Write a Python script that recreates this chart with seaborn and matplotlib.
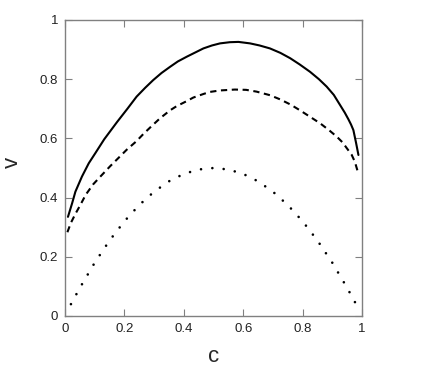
import numpy as np
import pandas as pd
import seaborn as sns
import matplotlib.pyplot as plt

# values
c_solid = [0.01, 0.024, 0.035, 0.057, 0.08, 0.102, 0.132, 0.175, 0.21, 0.241, 0.27, 0.297,
           0.325, 0.354, 0.38, 0.41, 0.44, 0.466, 0.495, 0.522, 0.555, 0.584, 0.623, 0.655,
           0.69, 0.725, 0.758, 0.79, 0.825, 0.855, 0.881, 0.905, 0.926, 0.942, 0.954, 0.963,
           0.971, 0.98, 0.988]
v_solid = [0.335, 0.381, 0.42, 0.471, 0.516, 0.55, 0.597, 0.655, 0.70, 0.741, 0.771, 0.797,
           0.821, 0.842, 0.86, 0.876, 0.891, 0.904, 0.914, 0.921, 0.925, 0.926, 0.921, 0.914,
           0.904, 0.889, 0.871, 0.85, 0.825, 0.80, 0.775, 0.747, 0.713, 0.687, 0.665, 0.647,
           0.628, 0.585, 0.544]

c_dash = [0.008, 0.02, 0.035, 0.05, 0.07, 0.095, 0.12, 0.152, 0.186, 0.208, 0.24, 0.264,
          0.29, 0.32, 0.354, 0.376, 0.41, 0.432, 0.466, 0.488, 0.522, 0.572, 0.61, 0.645,
          0.69, 0.724, 0.76, 0.791, 0.825, 0.859, 0.89, 0.915, 0.935, 0.948, 0.965, 0.976,
          0.988]
v_dash = [0.283, 0.315, 0.345, 0.372, 0.41, 0.445, 0.472, 0.506, 0.54, 0.562, 0.59, 0.615,
          0.64, 0.668, 0.695, 0.709, 0.726, 0.738, 0.75, 0.757, 0.762, 0.765, 0.764, 0.758,
          0.746, 0.732, 0.714, 0.695, 0.673, 0.651, 0.627, 0.606, 0.586, 0.568, 0.545, 0.521,
          0.48]

c_dot = [0.02, 0.05, 0.1, 0.15, 0.2, 0.25, 0.3, 0.35, 0.4, 0.45, 0.5, 0.55, 0.6, 0.65,
         0.7, 0.75, 0.8, 0.85, 0.9, 0.95, 0.98]
v_dot = [0.04, 0.095, 0.18, 0.255, 0.32, 0.375, 0.42, 0.455, 0.48, 0.495, 0.50, 0.495,
         0.48, 0.455, 0.42, 0.375, 0.32, 0.255, 0.18, 0.095, 0.04]

ticks = [0, 0.2, 0.4, 0.6, 0.8, 1]
tick_labels = ["0", "0.2", "0.4", "0.6", "0.8", "1"]

sns.set_style("ticks")
plt.rcParams['font.family'] = ['Liberation Sans', 'DejaVu Sans']

fig = plt.figure(figsize=(4.32, 3.68), dpi=100)
ax = fig.add_axes([65 / 432, 1 - 316 / 368, 297 / 432, 296 / 368])

sns.lineplot(x=c_solid, y=v_solid, ax=ax, color='black', lw=1.5, sort=False)
sns.lineplot(x=c_dash, y=v_dash, ax=ax, color='black', lw=1.5, sort=False,
             linestyle=(0, (3.0, 2.2)))
sns.lineplot(x=c_dot, y=v_dot, ax=ax, color='black', lw=1.9, sort=False,
             linestyle=(0, (0.01, 4.3)), dash_capstyle='round')

ax.set_xlim(0, 1)
ax.set_ylim(0, 1)
ax.set_xticks(ticks)
ax.set_xticklabels(tick_labels)
ax.set_yticks(ticks)
ax.set_yticklabels(tick_labels)
ax.tick_params(direction='in', length=5, width=0.8, color='#808080',
               top=True, right=True, labelsize=9.5, labelcolor='#222222')
ax.tick_params(axis='x', pad=5)
ax.tick_params(axis='y', pad=5)
for sp in ax.spines.values():
    sp.set_visible(True)
    sp.set_color('#808080')
    sp.set_linewidth(1.0)

ax.set_xlabel('c', fontsize=16)
ax.set_ylabel('v', fontsize=16)
ax.xaxis.set_label_coords(0.5, -0.102)
ax.yaxis.set_label_coords(-0.14, 0.52)

fig.savefig('out.png', dpi=100)
